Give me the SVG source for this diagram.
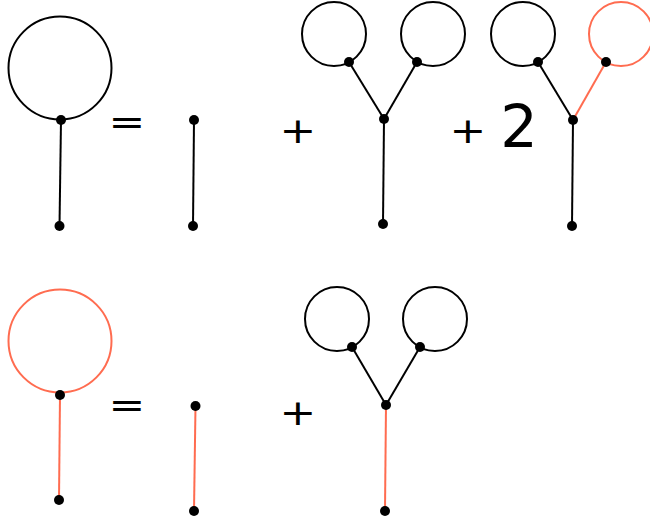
<svg xmlns="http://www.w3.org/2000/svg" width="650" height="520" viewBox="0 0 650 520">
<style>
.c{fill:none;stroke:#000;stroke-width:2}
.e{stroke:#000;stroke-width:2;fill:none}
.r{stroke:#ff6c50}
.d{fill:#000}
.t{font-family:"DejaVu Sans",sans-serif;fill:#000}
</style>
<rect width="650" height="520" fill="#fff"/>
<g id="connectors">
<line class="e" x1="61" y1="120" x2="59.5" y2="226"/>
<line class="e" x1="194" y1="120" x2="193" y2="226"/>
<line class="e" x1="349" y1="62" x2="384" y2="119"/>
<line class="e" x1="417" y1="62" x2="384" y2="119"/>
<line class="e" x1="384" y1="119" x2="383" y2="224"/>
<line class="e" x1="538" y1="62" x2="573" y2="120"/>
<line class="e r" x1="606" y1="62" x2="573" y2="120"/>
<line class="e" x1="573" y1="120" x2="572" y2="226"/>
<line class="e r" x1="60" y1="395" x2="59" y2="500"/>
<line class="e r" x1="195.5" y1="406" x2="194" y2="511"/>
<line class="e" x1="352" y1="347" x2="386" y2="405"/>
<line class="e" x1="420" y1="347" x2="386" y2="405"/>
<line class="e r" x1="386" y1="405" x2="385" y2="511"/>
</g>
<g id="loop1"><circle class="c" cx="60" cy="68" r="51.5"/><circle class="d" cx="61" cy="120" r="5"/><circle class="d" cx="59.5" cy="226" r="5"/></g>
<g id="eq1"><text class="t" transform="translate(127,134) scale(1.22,1)" font-size="36" text-anchor="middle">=</text></g>
<g id="edge1"><circle class="d" cx="194" cy="120" r="5"/><circle class="d" cx="193" cy="226" r="5"/></g>
<g id="plus1"><text class="t" transform="translate(298,143) scale(1.22,1)" font-size="36" text-anchor="middle">+</text></g>
<g id="y1"><circle class="c" cx="334" cy="34" r="32"/><circle class="c" cx="433" cy="34" r="32"/><circle class="d" cx="349" cy="62" r="5"/><circle class="d" cx="417" cy="62" r="5"/><circle class="d" cx="384" cy="119" r="5"/><circle class="d" cx="383" cy="224" r="5"/></g>
<g id="plus2"><text class="t" transform="translate(468,143) scale(1.22,1)" font-size="36" text-anchor="middle">+</text></g>
<g id="two"><text class="t" x="519" y="147" font-size="59" text-anchor="middle">2</text></g>
<g id="y2"><circle class="c" cx="523" cy="34" r="32"/><circle class="c r" cx="621" cy="34" r="32"/><circle class="d" cx="538" cy="62" r="5"/><circle class="d" cx="606" cy="62" r="5"/><circle class="d" cx="573" cy="120" r="5"/><circle class="d" cx="572" cy="226" r="5"/></g>
<g id="loop2"><circle class="c r" cx="60" cy="341" r="51.5"/><circle class="d" cx="60" cy="395" r="5"/><circle class="d" cx="59" cy="500" r="5"/></g>
<g id="eq2"><text class="t" transform="translate(127,417) scale(1.22,1)" font-size="36" text-anchor="middle">=</text></g>
<g id="edge2"><circle class="d" cx="195.5" cy="406" r="5"/><circle class="d" cx="194" cy="511" r="5"/></g>
<g id="plus3"><text class="t" transform="translate(298,425) scale(1.22,1)" font-size="36" text-anchor="middle">+</text></g>
<g id="y3"><circle class="c" cx="337" cy="319" r="32"/><circle class="c" cx="435" cy="319" r="32"/><circle class="d" cx="352" cy="347" r="5"/><circle class="d" cx="420" cy="347" r="5"/><circle class="d" cx="386" cy="405" r="5"/><circle class="d" cx="385" cy="511" r="5"/></g>
</svg>
